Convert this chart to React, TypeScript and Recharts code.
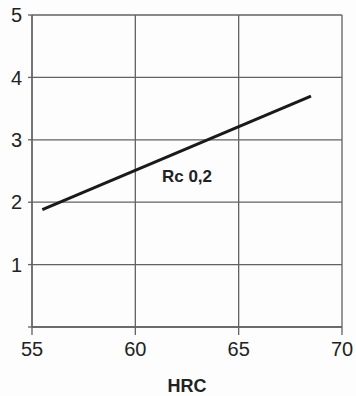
import React from 'react';
import { LineChart, Line, XAxis, YAxis, CartesianGrid, ReferenceDot } from 'recharts';

const hrcValues = [55.5, 68.5];
const rcValues = [1.88, 3.7];
const xTicks = [55, 60, 65, 70];
const yTicks = [0, 1, 2, 3, 4, 5];
const seriesLabel = 'Rc 0,2';
const labelPoint = { hrc: 62.5, rc: 2.42 };

const data = hrcValues.map((hrc, i) => ({ hrc, rc: rcValues[i] }));

const gridColor = '#626262';
const textColor = '#222';
const font = 'Liberation Sans, Arial, sans-serif';

const App: React.FC = () => {
  return (
    <div style={{ position: 'absolute', left: 0, top: 0, width: 356, height: 396, background: '#fdfdfd' }}>
      <LineChart width={356} height={396} data={data} margin={{ top: 15, right: 14, bottom: 0, left: 0 }}>
        <CartesianGrid stroke={gridColor} strokeWidth={1.3} />
        <XAxis
          dataKey="hrc"
          type="number"
          domain={[55, 70]}
          ticks={xTicks}
          height={69}
          tickSize={8}
          tickMargin={7}
          stroke={gridColor}
          strokeWidth={1.3}
          tick={{ fill: textColor, fontSize: 20, fontFamily: font }}
          label={{
            value: 'HRC',
            position: 'insideBottom',
            offset: 4,
            fill: textColor,
            fontSize: 18,
            fontWeight: 'bold',
            fontFamily: font,
          }}
        />
        <YAxis
          type="number"
          domain={[0, 5]}
          ticks={yTicks}
          width={32}
          tickSize={4}
          tickMargin={6}
          stroke={gridColor}
          strokeWidth={1.3}
          tickFormatter={(v: number) => (v === 0 ? '' : String(v))}
          tick={{ fill: textColor, fontSize: 20, fontFamily: font }}
        />
        <Line
          type="linear"
          dataKey="rc"
          stroke="#1a1a1a"
          strokeWidth={3}
          dot={false}
          isAnimationActive={false}
        />
        <ReferenceDot
          x={labelPoint.hrc}
          y={labelPoint.rc}
          r={0}
          fill="none"
          stroke="none"
          label={{
            value: seriesLabel,
            position: 'center',
            fill: textColor,
            fontSize: 17,
            fontWeight: 'bold',
            fontFamily: font,
          }}
        />
      </LineChart>
    </div>
  );
};

export default App;
